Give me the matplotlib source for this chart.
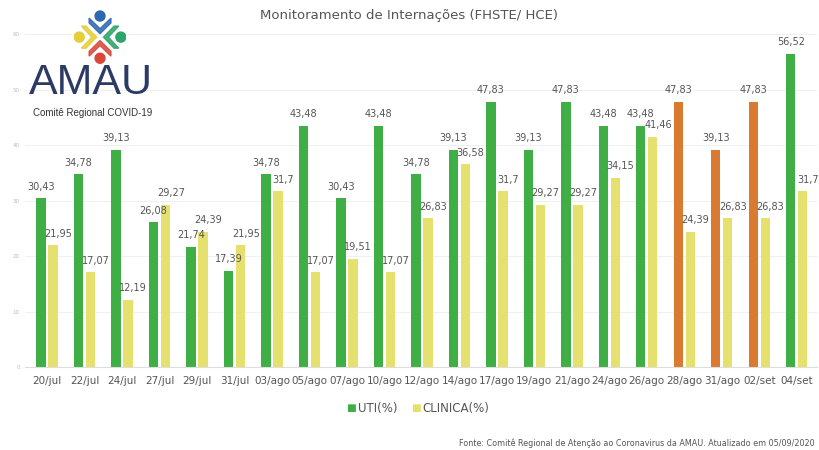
import numpy as np
import matplotlib.pyplot as plt
from matplotlib.patches import Circle, Polygon

dates = ["20/jul", "22/jul", "24/jul", "27/jul", "29/jul", "31/jul", "03/ago",
         "05/ago", "07/ago", "10/ago", "12/ago", "14/ago", "17/ago", "19/ago",
         "21/ago", "24/ago", "26/ago", "28/ago", "31/ago", "02/set", "04/set"]
uti = [30.43, 34.78, 39.13, 26.08, 21.74, 17.39, 34.78, 43.48, 30.43, 43.48,
       34.78, 39.13, 47.83, 39.13, 47.83, 43.48, 43.48, 47.83, 39.13, 47.83, 56.52]
clinica = [21.95, 17.07, 12.19, 29.27, 24.39, 21.95, 31.7, 17.07, 19.51, 17.07,
           26.83, 36.58, 31.7, 29.27, 29.27, 34.15, 41.46, 24.39, 26.83, 26.83, 31.7]
orange_dates = ["28/ago", "31/ago", "02/set"]

green = "#3fae45"
yellow = "#e6e06e"
orange = "#da7a30"
txt = "#555555"

fig = plt.figure(figsize=(8.19, 4.5), dpi=100)
ax = fig.add_axes([0.03, 0.184, 0.968, 0.74])

x = np.arange(len(dates))
w = 0.25
uti_cols = [orange if d in orange_dates else green for d in dates]
ax.bar(x - 0.16, uti, w, color=uti_cols, zorder=2)
ax.bar(x + 0.16, clinica, w, color=yellow, zorder=2)

def fmt(v):
    return f"{v:g}".replace(".", ",")

for i in range(len(dates)):
    ax.text(x[i] - 0.16, uti[i] + 1.2, fmt(uti[i]), ha="center", va="bottom",
            fontsize=7, color=txt, zorder=3)
    ax.text(x[i] + 0.3, clinica[i] + 1.2, fmt(clinica[i]), ha="center", va="bottom",
            fontsize=7, color=txt, zorder=3)

ax.set_ylim(0, 60)
ax.set_xlim(-0.6, len(dates) - 0.45)
ax.set_yticks(range(0, 61, 10))
ax.tick_params(axis="y", labelsize=4, colors="#bbbbbb", length=0)
ax.set_xticks(x)
ax.set_xticklabels(dates, fontsize=7.5, color=txt)
ax.tick_params(axis="x", length=0, pad=6)
ax.grid(axis="y", color="#eeeeee", linewidth=0.6, zorder=0)
for s in ["top", "right", "left"]:
    ax.spines[s].set_visible(False)
ax.spines["bottom"].set_color("#dddddd")

fig.text(0.5, 0.965, "Monitoramento de Internações (FHSTE/ HCE)", ha="center",
         va="center", fontsize=9.5, color=txt)

# legend
fig.text(0.428, 0.093, "■", color=green, fontsize=7.5, ha="center", va="center")
fig.text(0.437, 0.093, "UTI(%)", color=txt, fontsize=8.5, ha="left", va="center")
fig.text(0.508, 0.093, "■", color=yellow, fontsize=7.5, ha="center", va="center")
fig.text(0.516, 0.093, "CLINICA(%)", color=txt, fontsize=8.5, ha="left", va="center")

fig.text(0.995, 0.016, "Fonte: Comitê Regional de Atenção ao Coronavirus da AMAU. Atualizado em 05/09/2020",
         fontsize=5.8, color=txt, ha="right", va="center")

# logo
fig.text(0.035, 0.815, "AMAU", family="Liberation Sans", fontsize=31,
         color="#2c3b66", ha="left", va="center")
fig.text(0.04, 0.748, "Comitê Regional COVID-19", family="Liberation Sans",
         fontsize=7, color="#333333", ha="left", va="center")
lg = fig.add_axes([0.0904, 0.853, 0.0635, 0.129])
lg.set_xlim(-1, 1)
lg.set_ylim(-1.1, 1.1)
lg.axis("off")
logo_cols = ["#2e67b1", "#2ea36a", "#d9473a", "#e3cf3a"]
logo_dirs = [(0, 1), (1, 0), (0, -1), (-1, 0)]
for (dx, dy), c in zip(logo_dirs, logo_cols):
    lg.add_patch(Circle((dx * 0.8, dy * 0.8), 0.19, color=c))
    # chevron (arms) opening toward the head
    band = [(-0.42, 0.72), (0, 0.32), (0.42, 0.72), (0.42, 0.54), (0, 0.13), (-0.42, 0.54)]
    pts = [(u * dy + v * dx, v * dy + u * dx) if dx == 0 else (v * dx, u) for u, v in band]
    lg.add_patch(Polygon(pts, color=c, alpha=0.85))

fig.savefig("out.png", dpi=100)
